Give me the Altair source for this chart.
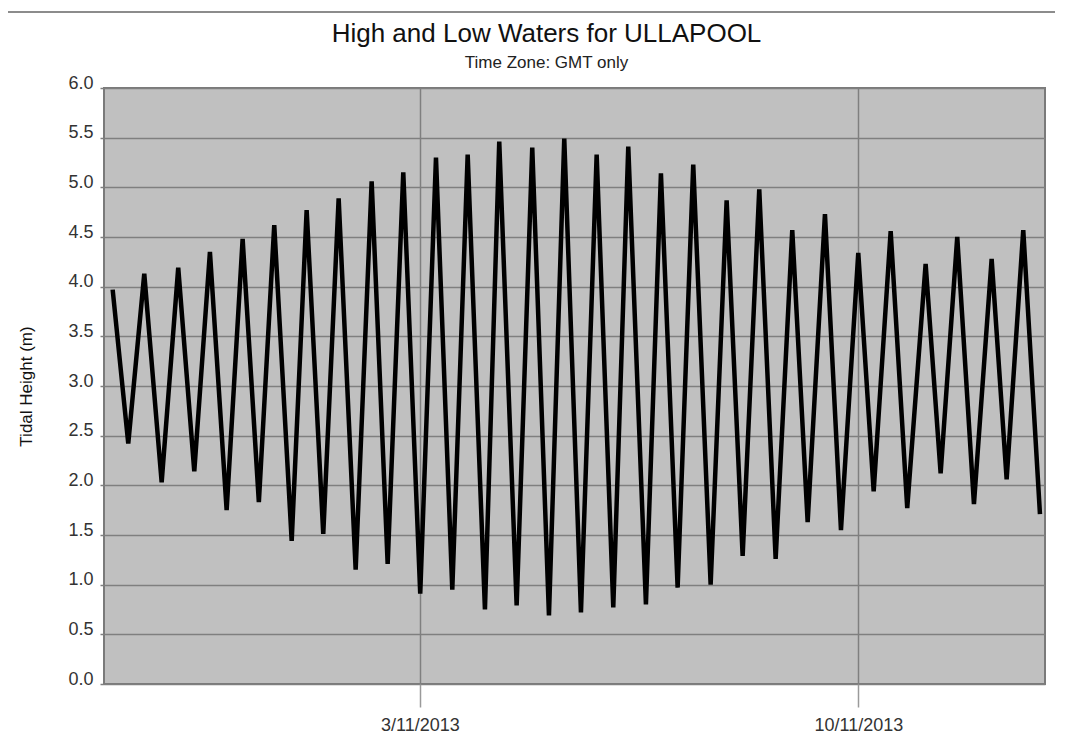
import altair as alt
import pandas as pd

# Times of high / low water (GMT) and tidal heights (m)
times = [
    "2013-10-29T02:13", "2013-10-29T08:12", "2013-10-29T14:20", "2013-10-29T21:00",
    "2013-10-30T03:21", "2013-10-30T09:30", "2013-10-30T15:30", "2013-10-30T21:54",
    "2013-10-31T04:02", "2013-10-31T10:15", "2013-10-31T16:09", "2013-10-31T22:50",
    "2013-11-01T04:34", "2013-11-01T10:56", "2013-11-01T16:50", "2013-11-01T23:21",
    "2013-11-02T05:29", "2013-11-02T11:37", "2013-11-02T17:36", "2013-11-03T00:06",
    "2013-11-03T06:08", "2013-11-03T12:23", "2013-11-03T18:17", "2013-11-04T00:54",
    "2013-11-04T06:23", "2013-11-04T13:03", "2013-11-04T19:02", "2013-11-05T01:26",
    "2013-11-05T07:18", "2013-11-05T13:42", "2013-11-05T19:43", "2013-11-06T02:05",
    "2013-11-06T07:50", "2013-11-06T14:36", "2013-11-06T20:21", "2013-11-07T02:45",
    "2013-11-07T08:44", "2013-11-07T15:24", "2013-11-07T21:32", "2013-11-08T03:40",
    "2013-11-08T10:02", "2013-11-08T16:19", "2013-11-08T22:41", "2013-11-09T04:35",
    "2013-11-09T11:13", "2013-11-09T17:21", "2013-11-09T23:59", "2013-11-10T05:53",
    "2013-11-10T12:24", "2013-11-10T18:45", "2013-11-11T01:48", "2013-11-11T07:33",
    "2013-11-11T13:55", "2013-11-11T20:19", "2013-11-12T03:06", "2013-11-12T08:51",
    "2013-11-12T15:13", "2013-11-12T21:37",
]
heights = [
    3.97, 2.42, 4.13, 2.03, 4.19, 2.14, 4.35, 1.75, 4.48, 1.83,
    4.62, 1.44, 4.77, 1.51, 4.89, 1.15, 5.06, 1.21, 5.15, 0.91,
    5.30, 0.95, 5.33, 0.75, 5.46, 0.79, 5.40, 0.69, 5.49, 0.72,
    5.33, 0.77, 5.41, 0.80, 5.14, 0.97, 5.23, 1.00, 4.87, 1.29,
    4.98, 1.26, 4.57, 1.63, 4.73, 1.55, 4.34, 1.94, 4.56, 1.77,
    4.23, 2.12, 4.50, 1.81, 4.28, 2.06, 4.57, 1.71,
]
x_domain = ["2013-10-28T22:54", "2013-11-12T23:33"]
x_ticks = [alt.DateTime(year=2013, month=11, date=3), alt.DateTime(year=2013, month=11, date=10)]
y_ticks = [0.0, 0.5, 1.0, 1.5, 2.0, 2.5, 3.0, 3.5, 4.0, 4.5, 5.0, 5.5, 6.0]

df = pd.DataFrame({"time": times, "height": heights})

FONT = "Liberation Sans"

line = alt.Chart(df).mark_line(color="black", strokeWidth=4.5, strokeJoin="miter").encode(
    x=alt.X("time:T",
            scale=alt.Scale(domain=x_domain),
            axis=alt.Axis(values=x_ticks, format="%-d/%m/%Y", formatType="time",
                          title=None, grid=True, gridColor="#7f7f7f", gridWidth=1.5,
                          gridOpacity=1, domain=False, ticks=True, tickSize=23,
                          tickColor="#9a9a9a", tickWidth=1.5, labelFont=FONT,
                          labelFontSize=18, labelColor="#333333", labelPadding=9,
                          labelBaseline="top", labelFlush=False)),
    y=alt.Y("height:Q",
            scale=alt.Scale(domain=[0, 6], nice=False, zero=True),
            axis=alt.Axis(values=y_ticks, format=".1f", title="Tidal Height (m)",
                          grid=True, gridColor="#7f7f7f", gridWidth=1.5, gridOpacity=1,
                          domain=False, ticks=True, tickSize=4, tickColor="#7f7f7f",
                          tickWidth=1.5, labelFont=FONT, labelFontSize=18,
                          labelColor="#333333", labelPadding=7,
                          labelBaseline="alphabetic", labelFlush=False,
                          titleFont=FONT, titleFontSize=17, titleFontWeight="normal",
                          titleColor="#111111", titleAngle=270, titleAlign="center",
                          titleBaseline="alphabetic", titleX=-73, titleY=298)),
)

top_rule = alt.Chart(pd.DataFrame({"a": [0]})).mark_rule(
    color="#8c8c8c", strokeWidth=2).encode(
    x=alt.value(-104), x2=alt.value(963), y=alt.value(-76))

chart = alt.layer(top_rule, line).properties(
    width=941,
    height=596,
    padding={"left": 96, "top": 80, "right": 10, "bottom": 50},
    autosize=alt.AutoSizeParams(type="none"),
    title=alt.TitleParams(
        text="High and Low Waters for ULLAPOOL",
        subtitle="Time Zone: GMT only",
        anchor="middle", frame="group", dx=-28,
        font=FONT, fontSize=26, fontWeight="normal", color="#111111",
        subtitleFont=FONT, subtitleFontSize=17, subtitleColor="#222222",
        subtitlePadding=8, offset=-60,
    ),
).configure_view(
    fill="#c0c0c0", stroke="#7a7a7a", strokeWidth=2
)

chart.save("out.html", embed_options={"renderer": "svg", "actions": False})
